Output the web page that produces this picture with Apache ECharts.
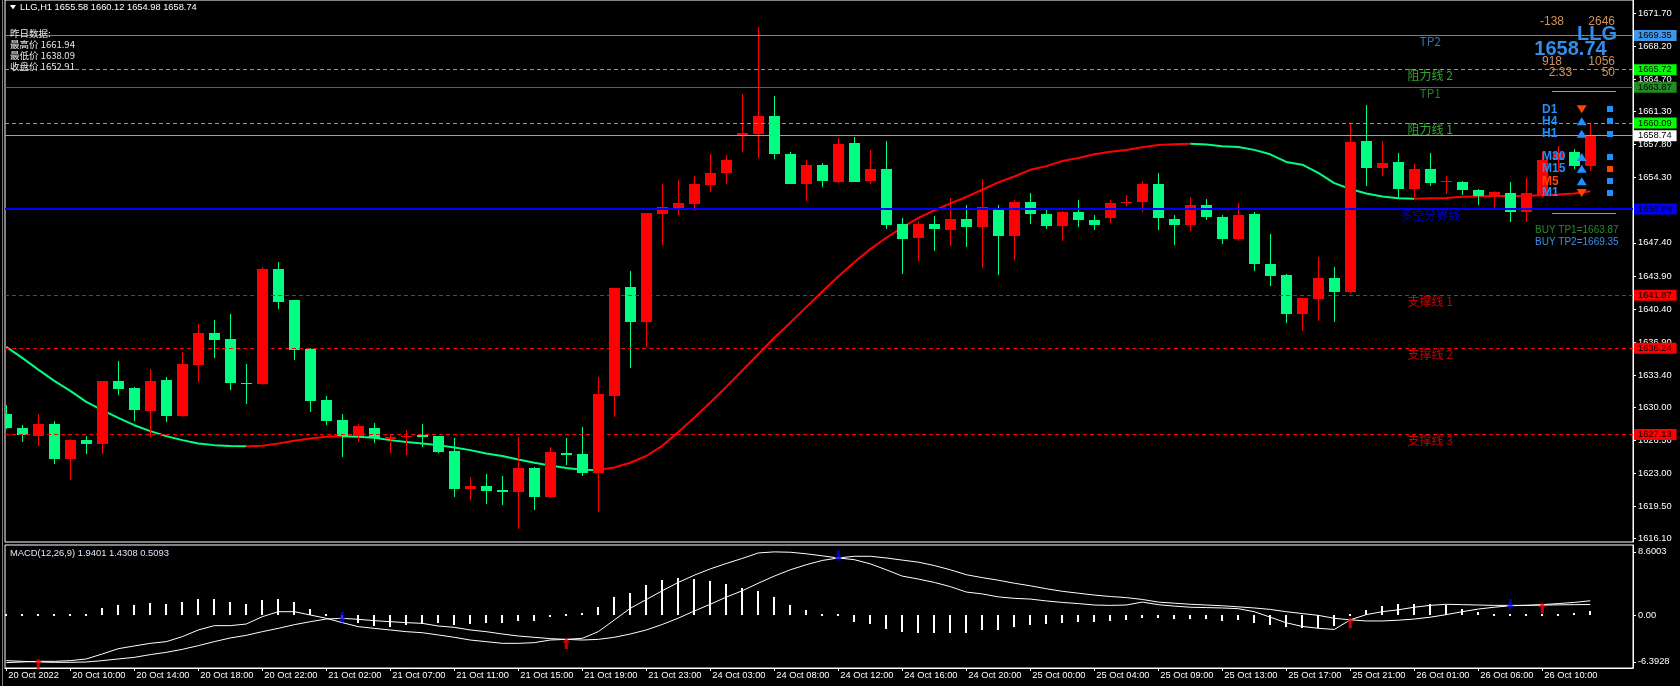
<!DOCTYPE html>
<html><head><meta charset="utf-8">
<script src="https://cdn.jsdelivr.net/npm/echarts@6/dist/echarts.min.js"></script>
<style>html,body{margin:0;padding:0;background:#000;}#c{width:1680px;height:686px;}</style>
</head><body><div id="c"></div>
<script>
// ---------------- DATA ----------------
const opens = [1629.27,1627.76,1626.99,1628.22,1624.52,1626.53,1626.14,1632.76,1632.02,1629.59,
1632.87,1629.06,1634.45,1637.83,1637.20,1632.62,1632.44,1644.59,1641.32,1636.14,
1630.75,1628.64,1626.95,1627.80,1626.67,1626.81,1627.06,1626.95,1625.37,1621.39,
1621.67,1621.25,1621.04,1623.57,1620.51,1625.16,1625.05,1623.05,1631.18,1642.69,
1639.00,1650.42,1651.14,1651.54,1653.49,1654.78,1658.78,1658.96,1660.87,1656.83,
1653.63,1655.67,1653.89,1657.98,1653.94,1655.27,1649.36,1647.89,1649.45,1648.74,
1649.98,1649.07,1651.14,1648.09,1651.77,1650.48,1649.15,1650.71,1649.85,1650.01,
1651.65,1651.69,1653.68,1649.97,1649.27,1651.45,1650.09,1647.78,1650.48,1645.20,
1643.95,1639.85,1641.41,1643.64,1642.19,1658.21,1655.28,1655.99,1653.06,1655.25,
1653.80,1653.88,1653.02,1652.24,1652.70,1650.63,1652.35,1656.20,1656.98,1655.58];
const highs = [1630.22,1628.11,1629.27,1628.53,1626.63,1626.95,1632.80,1634.87,1632.10,1634.03,
1633.18,1635.82,1638.78,1639.20,1639.84,1634.56,1644.80,1645.33,1641.40,1636.25,
1631.18,1629.28,1628.22,1628.33,1627.13,1627.59,1628.22,1627.00,1626.74,1622.62,
1622.94,1622.73,1626.85,1623.68,1625.79,1626.74,1627.90,1633.18,1642.60,1644.38,
1650.61,1653.67,1654.07,1654.43,1656.83,1656.74,1663.18,1670.25,1662.96,1657.05,
1656.20,1655.80,1658.52,1658.65,1657.27,1658.16,1650.07,1649.71,1650.29,1652.20,
1651.45,1654.19,1651.45,1651.92,1652.63,1650.83,1650.75,1651.96,1650.32,1651.96,
1652.51,1653.99,1654.81,1650.40,1652.24,1652.08,1650.40,1651.65,1650.71,1648.29,
1644.07,1641.60,1645.87,1644.89,1660.05,1661.94,1658.21,1656.96,1655.79,1656.96,
1654.50,1653.95,1653.10,1652.85,1653.88,1654.31,1657.00,1657.61,1657.34,1660.12];
const lows = [1627.70,1626.35,1625.89,1623.99,1622.34,1625.05,1625.05,1631.28,1628.53,1626.88,
1628.43,1629.00,1632.66,1635.19,1631.81,1630.33,1632.40,1640.37,1634.98,1629.49,
1628.11,1624.70,1626.32,1626.21,1625.19,1624.98,1625.76,1625.16,1620.51,1620.19,
1619.77,1619.67,1617.13,1619.14,1620.41,1623.89,1622.73,1618.93,1628.96,1634.14,
1636.35,1647.18,1650.38,1650.74,1652.74,1653.67,1657.05,1656.43,1656.29,1653.60,
1651.80,1653.27,1653.72,1653.80,1653.63,1648.83,1644.16,1645.49,1646.51,1647.05,
1646.96,1644.77,1643.99,1645.63,1649.42,1648.91,1647.55,1649.03,1648.72,1649.50,
1651.26,1650.63,1648.72,1647.16,1648.64,1649.81,1647.27,1647.62,1644.42,1642.82,
1638.91,1638.09,1639.18,1639.03,1642.10,1653.45,1654.46,1652.16,1652.27,1653.37,
1652.55,1652.43,1651.38,1651.02,1649.62,1649.62,1652.30,1654.86,1655.22,1654.98];
const closes = [1627.83,1627.06,1628.22,1624.52,1626.53,1626.14,1632.76,1631.92,1629.70,1632.76,
1629.06,1634.56,1637.83,1637.09,1632.55,1632.52,1644.59,1641.10,1636.03,1630.65,
1628.57,1626.95,1628.01,1626.74,1626.85,1626.95,1626.88,1625.26,1621.35,1621.67,
1621.14,1621.07,1623.57,1620.51,1625.26,1624.95,1623.05,1631.39,1642.58,1639.00,
1650.51,1651.23,1651.67,1653.58,1654.83,1656.12,1659.05,1660.87,1656.83,1653.63,
1655.67,1653.94,1657.89,1653.89,1655.27,1649.27,1647.80,1649.45,1648.87,1649.98,
1649.05,1651.22,1648.09,1651.77,1650.44,1649.15,1650.71,1649.81,1649.27,1651.65,
1651.77,1653.68,1650.01,1649.27,1651.45,1650.13,1647.78,1650.40,1645.16,1643.87,
1639.85,1641.53,1643.64,1642.19,1658.10,1655.28,1655.83,1653.06,1655.25,1653.72,
1653.92,1652.98,1652.39,1652.78,1650.63,1652.63,1656.22,1656.90,1655.57,1658.74];
const maValues = [1636.39,1635.23,1633.99,1632.80,1631.74,1630.58,1629.70,1628.89,1628.11,1627.48,
1626.95,1626.53,1626.18,1626.00,1625.92,1625.89,1625.93,1626.18,1626.46,1626.71,
1626.88,1626.95,1626.88,1626.78,1626.53,1626.32,1626.18,1626.00,1625.76,1625.47,
1625.12,1624.84,1624.49,1624.14,1623.85,1623.57,1623.40,1623.36,1623.64,1624.14,
1624.85,1625.93,1627.40,1628.91,1630.51,1632.16,1633.89,1635.62,1637.36,1638.96,
1640.60,1642.25,1643.85,1645.36,1646.74,1647.94,1649.05,1650.03,1650.83,1651.58,
1652.26,1653.02,1653.80,1654.42,1655.13,1655.52,1656.07,1656.38,1656.77,1657.04,
1657.24,1657.51,1657.75,1657.84,1657.90,1657.82,1657.63,1657.55,1657.24,1656.77,
1655.97,1655.67,1654.81,1653.72,1653.10,1652.63,1652.31,1652.12,1652.08,1652.12,
1652.16,1652.27,1652.31,1652.35,1652.36,1652.39,1652.43,1652.51,1652.63,1652.86];
const difValues = [-6.49,-6.40,-6.31,-6.31,-6.22,-5.99,-5.31,-4.59,-4.22,-3.86,
-3.63,-2.95,-2.04,-1.45,-1.45,-1.23,-0.23,0.45,0.45,0.00,
-0.45,-1.04,-1.59,-1.82,-2.04,-2.27,-2.41,-2.72,-3.04,-3.41,
-3.63,-3.86,-3.86,-3.77,-3.41,-3.32,-3.18,-2.27,-0.68,0.91,
2.10,3.30,4.44,5.42,6.28,7.02,7.71,8.45,8.60,8.55,
8.34,8.06,7.77,7.54,6.97,6.16,5.30,4.90,4.44,3.87,
3.13,2.87,2.47,2.27,2.17,1.92,1.71,1.56,1.36,1.31,
1.36,1.76,1.41,1.21,1.06,1.01,0.96,0.86,0.45,-0.30,
-1.06,-1.56,-1.81,-1.97,-0.66,0.05,0.45,0.71,1.06,1.31,
1.46,1.41,1.36,1.31,1.31,1.31,1.41,1.56,1.71,1.9401];
const deaValues = [-6.22,-6.31,-6.40,-6.45,-6.45,-6.40,-6.22,-5.99,-5.77,-5.40,
-5.09,-4.68,-4.18,-3.63,-3.13,-2.77,-2.27,-1.82,-1.32,-0.91,
-0.55,-0.45,-0.59,-0.77,-0.91,-1.04,-1.14,-1.50,-1.68,-2.04,
-2.27,-2.59,-2.86,-3.04,-3.22,-3.32,-3.41,-3.32,-3.04,-2.59,
-2.04,-1.29,-0.43,0.54,1.46,2.44,3.30,4.33,5.30,6.16,
6.85,7.43,7.77,8.00,8.00,7.77,7.48,7.20,6.74,6.16,
5.49,5.09,4.74,4.33,3.98,3.58,3.23,2.97,2.72,2.52,
2.37,2.12,1.76,1.61,1.46,1.36,1.26,1.11,0.96,0.76,
0.45,0.20,-0.05,-0.45,-0.66,-0.81,-0.81,-0.71,-0.55,-0.30,
0.05,0.45,0.81,1.06,1.26,1.32,1.35,1.38,1.41,1.4308];
const histValues = [-0.10,-0.10,0.00,0.00,0.05,0.20,1.00,1.36,1.36,1.63,
1.50,1.77,2.18,2.18,1.77,1.45,2.00,2.18,1.77,0.82,
0.05,-0.50,-1.04,-1.45,-1.59,-1.36,-1.23,-1.14,-1.36,-1.27,
-1.14,-1.14,-0.77,-0.77,-0.23,0.08,0.32,1.14,2.50,3.04,
4.10,4.73,5.02,4.90,4.60,4.16,3.70,3.30,2.44,1.40,
0.72,0.05,-0.20,-0.90,-1.20,-1.90,-2.30,-2.44,-2.44,-2.44,
-2.44,-2.07,-2.07,-1.66,-1.31,-1.21,-1.06,-0.91,-0.91,-0.76,
-0.66,-0.35,-0.35,-0.50,-0.50,-0.50,-0.76,-0.66,-1.06,-1.31,
-1.66,-1.81,-1.81,-1.56,-0.10,0.70,1.21,1.46,1.56,1.46,
1.31,0.81,0.45,0.15,-0.05,-0.14,-0.04,0.10,0.23,0.5093];
const upCrossBars = [2, 35, 84, 96];
const upCrossValues = [-6.40, -3.60, -0.80, 1.23];
const downCrossBars = [21, 52, 94];
const downCrossValues = [-0.35, 8.04, 1.42];
const xTickBars = [0,4,8,12,16,20,24,28,32,36,40,44,48,52,56,60,64,68,72,76,80,84,88,92,96];
const xTickLabels = ['20 Oct 2022','20 Oct 10:00','20 Oct 14:00','20 Oct 18:00','20 Oct 22:00','21 Oct 02:00','21 Oct 07:00','21 Oct 11:00','21 Oct 15:00','21 Oct 19:00','21 Oct 23:00','24 Oct 03:00','24 Oct 08:00','24 Oct 12:00','24 Oct 16:00','24 Oct 20:00','25 Oct 00:00','25 Oct 04:00','25 Oct 09:00','25 Oct 13:00','25 Oct 17:00','25 Oct 21:00','26 Oct 01:00','26 Oct 06:00','26 Oct 10:00'];
const priceTicks = [1671.70,1668.20,1664.70,1661.30,1657.80,1654.30,1650.80,1647.40,1643.90,1640.40,1636.90,1633.40,1630.00,1626.50,1623.00,1619.50,1616.10];
const macdTicks = [8.6003, 0, -6.3928];
const macdTickLabels = ['8.6003', '0.00', '-6.3928'];
const macdParams = [12, 26, 9];
const levelValues = [1669.35, 1665.72, 1663.87, 1660.09, 1658.74, 1650.98, 1641.87, 1636.24, 1627.13];
const levelNames = ['TP2', '阻力线 2', 'TP1', '阻力线 1', '', '多空分界线', '支撑线 1', '支撑线 2', '支撑线 3'];
const prevDayNames = ['最高价', '最低价', '收盘价'];
const prevDayValues = [1661.94, 1638.09, 1652.91];
const panelTopRow = ['-138', '2646'];
const panelMidRow = ['918', '1056'];
const panelBotRow = ['2:33', '50'];
const tfNames = ['D1', 'H4', 'H1', 'M30', 'M15', 'M5', 'M1'];
const tfTrend = ['down', 'up', 'up', 'up', 'up', 'up', 'down'];
const tfSignal = ['up', 'up', 'up', 'up', 'down', 'up', 'up'];
const symbolName = 'LLG';
const timeframe = 'H1';

// ---------------- STYLE ----------------
const UP = '#ff0000', DOWN = '#00ff80';
const BLUE_TXT = '#1e90ff', ORANGE = '#ff4500', TAN = '#d0925c';
const levelLineColors = ['#3d8fe4', '#00ff00', '#228b22', '#00ff00', '#a0a0a0', '#0000ff', '#ff0000', '#ff0000', '#ff0000'];
const levelLineTypes = ['solid', [4,3], 'solid', [4,3], 'solid', 'solid', [4,3], [4,3], [4,3]];
const levelLineWidths = [1, 1, 1, 1, 1, 2, 1, 1, 1];
const levelTagColors = ['#3d96e8', '#00ff00', '#228b22', '#00ff00', '#ffffff', '#0000ff', '#ff0000', '#ff0000', '#ff0000'];
const levelNameColors = ['#3d8fe4', '#3ad13a', '#2e9b2e', '#3ad13a', '#fff', '#0000ff', '#ff0000', '#ff0000', '#ff0000'];
const LABEL_BAR = 89;
const X_MIN = -0.08, X_MAX = 101.67;
const Y_MIN = 1615.75, Y_MAX = 1673.10;
const M_MIN = -7.221, M_MAX = 9.537;
const FONT = '"Liberation Sans", Arial, sans-serif';
const CJK = '"Noto Sans CJK SC", sans-serif';

const candleData = opens.map((o, i) => [i, o, highs[i], lows[i], closes[i]]);
const maRed = maValues.map((v, i) => [i, '-']);
const maGreen = maValues.map((v, i) => [i, '-']);
for (let i = 0; i < maValues.length - 1; i++) {
  const t = maValues[i + 1] > maValues[i] ? maRed : maGreen;
  t[i][1] = maValues[i]; t[i + 1][1] = maValues[i + 1];
}

function renderCandle(params, api) {
  const i = api.value(0), o = api.value(1), h = api.value(2), l = api.value(3), c = api.value(4);
  const po = api.coord([i, o]), pc = api.coord([i, c]), ph = api.coord([i, h]), pl = api.coord([i, l]);
  const col = c >= o ? UP : DOWN;
  const xc = Math.round(po[0]);
  const top = Math.round(Math.min(po[1], pc[1]));
  const bot = Math.round(Math.max(po[1], pc[1]));
  const yh = Math.round(ph[1]), yl = Math.round(pl[1]);
  return { type: 'group', children: [
    { type: 'rect', shape: { x: xc, y: yh, width: 1, height: Math.max(yl - yh, 1) }, style: { fill: col } },
    { type: 'rect', shape: { x: xc - 5, y: top, width: 11, height: Math.max(bot - top, 1) }, style: { fill: col } }
  ]};
}
function renderHist(params, api) {
  const i = api.value(0), v = api.value(1);
  const p0 = api.coord([i, 0]), p1 = api.coord([i, v]);
  const xc = Math.round(p0[0]);
  const y0 = Math.round(p0[1]), y1 = Math.round(p1[1]);
  let top = Math.min(y0, y1), h = Math.abs(y1 - y0);
  if (h < 2) { h = 2; top = y0 - 1; }
  return { type: 'rect', shape: { x: xc - 1, y: top, width: 2, height: h }, style: { fill: '#fff' } };
}

function txt(x, y, text, font, fill, align) {
  return { type: 'text', x: x, y: y, z: 100, silent: true,
    style: { text: text, font: font, fill: fill, align: align || 'left', textAlign: align || 'left', verticalAlign: 'middle', textVerticalAlign: 'middle' } };
}
const last = closes.length - 1;
const graphics = [];
graphics.push({ type: 'polygon', z: 100, shape: { points: [[10, 5], [16, 5], [13, 9.5]] }, style: { fill: '#fff' } });
graphics.push(txt(20, 7.5, `${symbolName},${timeframe} ${opens[last].toFixed(2)} ${highs[last].toFixed(2)} ${lows[last].toFixed(2)} ${closes[last].toFixed(2)}`, '9.3px ' + FONT, '#fff'));
graphics.push(txt(10, 33, '昨日数据:', '9.5px ' + CJK, '#e8e8e8'));
prevDayNames.forEach((n, k) => graphics.push(txt(10, 44.3 + k * 11.2, n + ' ' + prevDayValues[k].toFixed(2), '9.5px ' + CJK, '#e8e8e8')));
graphics.push(txt(10, 553, `MACD(${macdParams.join(',')}) ${difValues[last].toFixed(4)} ${deaValues[last].toFixed(4)} ${histValues[last].toFixed(4)}`, '9.4px ' + FONT, '#dde6f5'));
// right panel
graphics.push(txt(1552, 21.7, panelTopRow[0], '12px ' + FONT, TAN, 'center'));
graphics.push(txt(1615, 21.7, panelTopRow[1], '12px ' + FONT, TAN, 'right'));
graphics.push(txt(1597, 34.5, symbolName, 'bold 20px ' + FONT, '#2f8fea', 'center'));
graphics.push(txt(1570.5, 49, closes[last].toFixed(2), 'bold 20px ' + FONT, '#2f8fea', 'center'));
graphics.push(txt(1552, 61.7, panelMidRow[0], '12px ' + FONT, TAN, 'center'));
graphics.push(txt(1615, 61.7, panelMidRow[1], '12px ' + FONT, TAN, 'right'));
graphics.push(txt(1560.5, 72.3, panelBotRow[0], '12px ' + FONT, TAN, 'center'));
graphics.push(txt(1615, 72.3, panelBotRow[1], '12px ' + FONT, TAN, 'right'));
graphics.push({ type: 'line', z: 100, shape: { x1: 1552, y1: 91.5, x2: 1616, y2: 91.5 }, style: { stroke: TAN, lineWidth: 1 } });
graphics.push({ type: 'line', z: 100, shape: { x1: 1552, y1: 213.5, x2: 1616, y2: 213.5 }, style: { stroke: TAN, lineWidth: 1 } });
const tfRowY = [109.3, 121.3, 133.7, 157, 168.7, 181.3, 193];
tfNames.forEach((n, k) => {
  const y = tfRowY[k];
  graphics.push(txt(1542, y, n, 'bold 12px ' + FONT, n === 'M5' ? ORANGE : BLUE_TXT));
  const tx = 1581.7;
  const pts = tfTrend[k] === 'up' ? [[tx - 5, y + 4], [tx + 5, y + 4], [tx, y - 4]] : [[tx - 5, y - 4], [tx + 5, y - 4], [tx, y + 4]];
  graphics.push({ type: 'polygon', z: 101, shape: { points: pts }, style: { fill: tfTrend[k] === 'up' ? BLUE_TXT : ORANGE } });
  graphics.push({ type: 'rect', z: 101, shape: { x: 1607, y: Math.round(y - 3), width: 6, height: 6 }, style: { fill: tfSignal[k] === 'up' ? BLUE_TXT : ORANGE } });
});
graphics.push(txt(1535, 230, 'BUY TP1=' + levelValues[2].toFixed(2), '10px ' + FONT, '#2a8a2a'));
graphics.push(txt(1535, 242, 'BUY TP2=' + levelValues[0].toFixed(2), '10px ' + FONT, '#3d8fe4'));
graphics.push({ type: 'line', z: 100, shape: { x1: 2.5, y1: 0, x2: 2.5, y2: 686 }, style: { stroke: '#808080', lineWidth: 1 } });

const chart = echarts.init(document.getElementById('c'));
chart.setOption({
  backgroundColor: '#000',
  animation: false,
  grid: [
    { left: 5, right: 47, top: -3, height: 545, show: true, borderColor: '#fff', borderWidth: 1 },
    { left: 5, right: 47, top: 545, height: 123, show: true, borderColor: '#fff', borderWidth: 1 }
  ],
  xAxis: [
    { type: 'value', gridIndex: 0, min: X_MIN, max: X_MAX, show: false },
    { type: 'value', gridIndex: 1, min: X_MIN, max: X_MAX,
      axisLine: { show: true, onZero: false, lineStyle: { color: '#fff' } },
      axisTick: { show: true, customValues: xTickBars, length: 3, lineStyle: { color: '#fff' } },
      axisLabel: { show: true, customValues: xTickBars, formatter: v => xTickLabels[xTickBars.indexOf(Math.round(v))] || '',
        color: '#fff', fontSize: 9.3, fontFamily: FONT, align: 'left', margin: 3, padding: [0, 0, 0, 2] },
      splitLine: { show: false } }
  ],
  yAxis: [
    { type: 'value', gridIndex: 0, position: 'right', min: Y_MIN, max: Y_MAX,
      axisLine: { show: true, onZero: false, lineStyle: { color: '#fff' } },
      axisTick: { show: true, customValues: priceTicks, length: 3, lineStyle: { color: '#fff' } },
      axisLabel: { customValues: priceTicks, formatter: v => v.toFixed(2), color: '#fff', fontSize: 9.3, fontFamily: FONT, margin: 5 },
      splitLine: { show: false } },
    { type: 'value', gridIndex: 1, position: 'right', min: M_MIN, max: M_MAX,
      axisLine: { show: true, onZero: false, lineStyle: { color: '#fff' } },
      axisTick: { show: true, customValues: macdTicks, length: 3, lineStyle: { color: '#fff' } },
      axisLabel: { customValues: macdTicks, formatter: v => macdTickLabels[macdTicks.indexOf(v)] !== undefined ? macdTickLabels[macdTicks.indexOf(v)] : v.toFixed(2), color: '#fff', fontSize: 9.3, fontFamily: FONT, margin: 5 },
      splitLine: { show: false } }
  ],
  graphic: graphics,
  series: [
    { type: 'line', name: 'levels', xAxisIndex: 0, yAxisIndex: 0, data: [], clip: false, z: 2,
      markLine: { silent: true, symbol: ['none', 'none'], animation: false,
        data: levelValues.map((v, k) => ({ yAxis: v,
          lineStyle: { color: levelLineColors[k], type: levelLineTypes[k], width: levelLineWidths[k] },
          label: { show: true, position: 'end', formatter: () => v.toFixed(2), color: '#000', backgroundColor: levelTagColors[k],
            padding: [1, 5, 0, 4], distance: 1, fontSize: 9.3, fontFamily: FONT, lineHeight: 10 } })) } },
    { type: 'line', name: 'maG', xAxisIndex: 0, yAxisIndex: 0, data: maGreen, showSymbol: false, symbol: 'none', connectNulls: false,
      lineStyle: { color: DOWN, width: 2 }, z: 3 },
    { type: 'line', name: 'maR', xAxisIndex: 0, yAxisIndex: 0, data: maRed, showSymbol: false, symbol: 'none', connectNulls: false,
      lineStyle: { color: UP, width: 2 }, z: 3 },
    { type: 'custom', name: 'candles', xAxisIndex: 0, yAxisIndex: 0, data: candleData, renderItem: renderCandle, clip: true, z: 4,
      encode: { x: 0, y: [1, 2, 3, 4] } },
    { type: 'scatter', name: 'levelNames', xAxisIndex: 0, yAxisIndex: 0, symbolSize: 0, z: 6, silent: true,
      data: levelValues.map((v, k) => ({ value: [LABEL_BAR, v],
        label: { show: levelNames[k] !== '', formatter: levelNames[k], color: levelNameColors[k], position: 'bottom', distance: 0, fontSize: 12, fontFamily: CJK } })) },
    { type: 'custom', name: 'hist', xAxisIndex: 1, yAxisIndex: 1, data: histValues.map((v, i) => [i, v]), renderItem: renderHist, clip: true, z: 3 },
    { type: 'line', name: 'DIF', xAxisIndex: 1, yAxisIndex: 1, data: difValues.map((v, i) => [i, v]), symbol: 'none', lineStyle: { color: '#fff', width: 1 }, z: 4 },
    { type: 'line', name: 'DEA', xAxisIndex: 1, yAxisIndex: 1, data: deaValues.map((v, i) => [i, v]), symbol: 'none', lineStyle: { color: '#fff', width: 1 }, z: 4 },
    { type: 'scatter', name: 'crossUp', xAxisIndex: 1, yAxisIndex: 1, z: 6,
      symbol: 'path://M4,0 L8,4.5 L5.5,4.5 L5.5,11 L2.5,11 L2.5,4.5 L0,4.5 Z', symbolSize: [8, 11], symbolOffset: [0, 2],
      itemStyle: { color: '#ff0000' }, data: upCrossBars.map((b, k) => [b, upCrossValues[k]]) },
    { type: 'scatter', name: 'crossDown', xAxisIndex: 1, yAxisIndex: 1, z: 6,
      symbol: 'path://M4,11 L8,6.5 L5.5,6.5 L5.5,0 L2.5,0 L2.5,6.5 L0,6.5 Z', symbolSize: [8, 11],
      itemStyle: { color: '#0000ff' }, data: downCrossBars.map((b, k) => [b, downCrossValues[k]]) }
  ]
});
</script></body></html>
